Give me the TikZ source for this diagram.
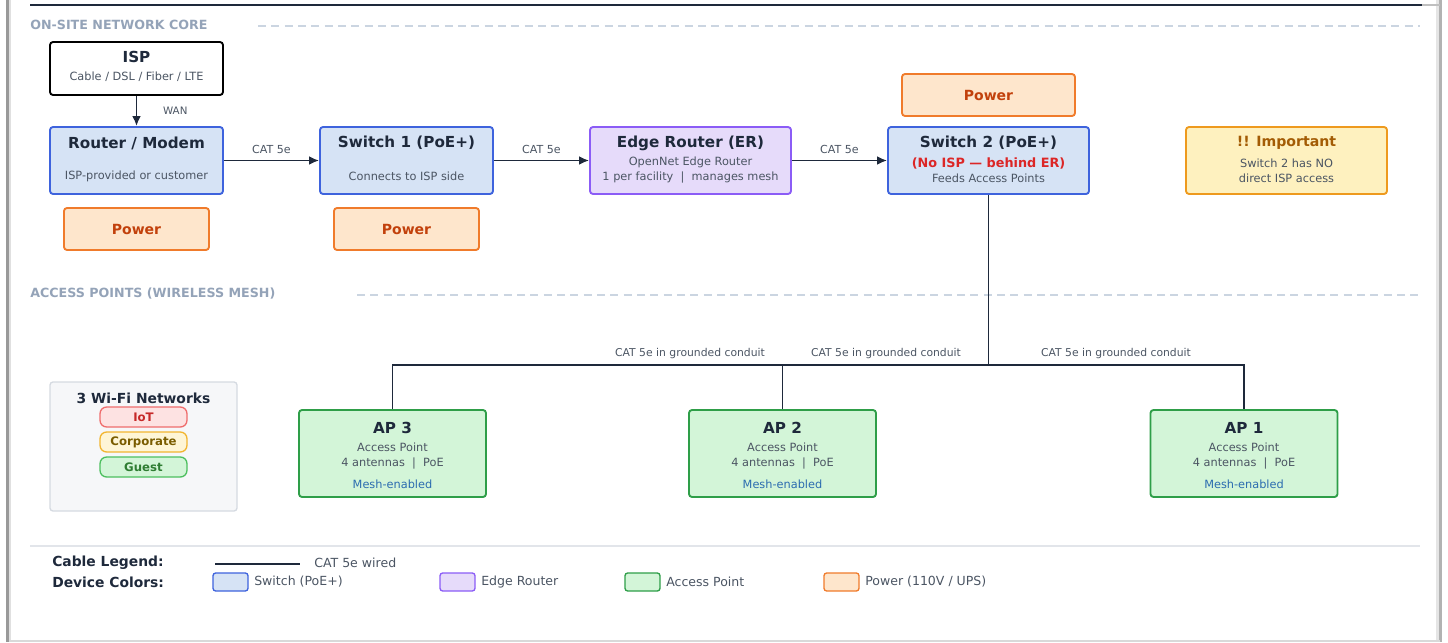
\documentclass[tikz,border=0pt]{standalone}
\usepackage{fontspec}
\setmainfont{DejaVu Sans}
\usepackage{xcolor}
\usepackage{tikz}
\usetikzlibrary{arrows.meta}

\definecolor{ink}{HTML}{1E293B}
\definecolor{subgray}{HTML}{4B5563}
\definecolor{secgray}{HTML}{94A3B8}
\definecolor{dashgray}{HTML}{CBD5E1}
\definecolor{sepgray}{HTML}{E2E5EA}
\definecolor{swfill}{HTML}{D6E3F5}
\definecolor{swline}{HTML}{3E63DD}
\definecolor{erfill}{HTML}{E6DBFA}
\definecolor{erline}{HTML}{8B5CF6}
\definecolor{pwfill}{HTML}{FEE6CC}
\definecolor{pwline}{HTML}{F07B2B}
\definecolor{pwtext}{HTML}{C2410C}
\definecolor{apfill}{HTML}{D3F5D8}
\definecolor{apline}{HTML}{2E9E48}
\definecolor{meshblue}{HTML}{2B6CB0}
\definecolor{impfill}{HTML}{FEF1BF}
\definecolor{impline}{HTML}{EE9A1E}
\definecolor{imptext}{HTML}{A35C05}
\definecolor{alertred}{HTML}{DC2626}
\definecolor{wififill}{HTML}{F6F7F9}
\definecolor{wifiline}{HTML}{D5DAE1}
\definecolor{iotfill}{HTML}{FDE2E2}
\definecolor{iotline}{HTML}{EF6C6C}
\definecolor{iottext}{HTML}{C62828}
\definecolor{corpfill}{HTML}{FEF5D6}
\definecolor{corpline}{HTML}{F2B530}
\definecolor{corptext}{HTML}{7A5C00}
\definecolor{guestline}{HTML}{4CBF5E}
\definecolor{guesttext}{HTML}{2E7D32}

\newcommand{\fsz}[1]{\fontsize{#1}{#1}\selectfont}

\begin{document}
\begin{tikzpicture}[x=0.75pt, y=-0.75pt,
    box/.style={draw, rounded corners=2.25pt, line width=1.4pt, inner sep=0pt},
    ispbox/.style={box, draw=black, fill=white, minimum width=129.75pt, minimum height=39.75pt},
    swbox/.style={box, draw=swline, fill=swfill, minimum width=129.75pt, minimum height=50.25pt},
    widebox/.style={box, minimum width=150.75pt, minimum height=50.25pt},
    erbox/.style={widebox, draw=erline, fill=erfill},
    impbox/.style={widebox, draw=impline, fill=impfill},
    pwbox/.style={box, draw=pwline, fill=pwfill, text=pwtext, font=\fsz{10.5}\bfseries,
                  minimum width=108.75pt, minimum height=31.5pt},
    apbox/.style={box, draw=apline, fill=apfill, minimum width=140.25pt, minimum height=65.25pt},
    wifibox/.style={box, line width=1pt, draw=wifiline, fill=wififill, minimum width=140.25pt, minimum height=96.75pt},
    pill/.style={box, line width=1pt, rounded corners=5pt, font=\fsz{8.8}\bfseries,
                 minimum width=65.25pt, minimum height=15pt},
    swatch/.style={box, line width=1pt, rounded corners=2pt, minimum width=26.25pt, minimum height=13.5pt},
    ttl/.style={text=ink, font=\fsz{11.4}\bfseries, inner sep=0pt},
    sub/.style={text=subgray, font=\fsz{8.5}, inner sep=0pt},
    sect/.style={text=secgray, font=\fsz{9.5}\bfseries, inner sep=0pt, anchor=west},
    cablelbl/.style={text=subgray, font=\fsz{8.3}},
    legend/.style={text=ink, font=\fsz{10.4}\bfseries, inner sep=0pt, anchor=west},
    legitem/.style={text=subgray, font=\fsz{9.4}, inner sep=0pt, anchor=west},
    cable/.style={draw=ink, line width=1.3pt},
    arr/.style={cable, -{Latex[length=7.5pt, width=6.5pt]}},
    sectline/.style={draw=dashgray, line width=1pt, dash pattern=on 6pt off 4pt}]

  \useasboundingbox (0,0) rectangle (1448,642);
  % Rahmen
  \fill[black!40] (6,0) rectangle (9,642);
  \fill[black!12] (9,0) rectangle (11,642);
  \fill[black!30] (1439,0) rectangle (1442,642);
  \fill[black!10] (1436,0) rectangle (1439,642);
  \draw[ink, line width=1.8pt] (30,5) -- (1422,5);
  \draw[black!25, line width=1.8pt] (1422,5) -- (1440,5);
  \draw[black!15, line width=1pt] (9,641) -- (1440,641);

  % Bereich oben
  \node[sect] (secCore) at (30,25) {ON-SITE NETWORK CORE};
  \draw[sectline] (258,26) -- (1420,26);

  \node[ispbox] (isp) at (136.5,68.5) {};
  \node[ttl] (ispT) at (136.5,57) {ISP};
  \node[sub] (ispS) at (136.5,77) {Cable / DSL / Fiber / LTE};

  \node[swbox] (router) at (136.5,160.5) {};
  \node[ttl] (routerT) at (136.5,143) {Router / Modem};
  \node[sub] (routerS) at (136.5,176) {ISP-provided or customer};

  \node[swbox] (swA) at (406.5,160.5) {};
  \node[ttl] (swAT) at (406.5,143) {Switch 1 (PoE+)};
  \node[sub] (swAS) at (406.5,176) {Connects to ISP side};

  \node[erbox] (er) at (690.5,160.5) {};
  \node[ttl] (erT) at (690.5,143) {Edge Router (ER)};
  \node[sub] (erS) at (690.5,162) {OpenNet Edge Router};
  \node[sub] (erU) at (690.5,178) {1 per facility \ | \ manages mesh};

  \node[widebox, draw=swline, fill=swfill] (swB) at (988.5,160.5) {};
  \node[ttl] (swBT) at (988.5,143) {Switch 2 (PoE+)};
  \node[ttl, text=alertred, font=\fsz{9.6}\bfseries] (swBR) at (988.5,163) {(No ISP — behind ER)};
  \node[sub] (swBS) at (988.5,178) {Feeds Access Points};

  \node[impbox] (imp) at (1286.5,160.5) {};
  \node[ttl, text=imptext, font=\fsz{10.6}\bfseries] (impT) at (1286.5,143) {!! Important};
  \node[sub] (impS) at (1286.5,163) {Switch 2 has NO};
  \node[sub] (impU) at (1286.5,178) {direct ISP access};

  \node[pwbox] (pwA) at (136.5,229) {Power};
  \node[pwbox] (pwB) at (406.5,229) {Power};
  \node[pwbox, minimum width=129.75pt] (pwC) at (988.5,95) {Power};

  % Kabel oben
  \draw[arr] (isp) -- node[right, cablelbl, font=\fsz{7.7}, xshift=16pt] {WAN} (router);
  \draw[arr] (router) -- node[above, cablelbl, yshift=1pt] {CAT 5e} (swA);
  \draw[arr] (swA) -- node[above, cablelbl, yshift=1pt] {CAT 5e} (er);
  \draw[arr] (er) -- node[above, cablelbl, yshift=1pt] {CAT 5e} (swB);

  % Bereich unten
  \node[sect] (secAP) at (30,294) {ACCESS POINTS (WIRELESS MESH)};
  \draw[sectline] (357,295) -- (1420,295);

  \foreach \nm/\lbl/\cx in {apC/3/392.5, apB/2/782.5, apA/1/1244}{
    \node[apbox] (\nm) at (\cx,453.5) {};
    \node[ttl] (\nm T) at (\cx,428) {AP \lbl};
    \node[sub] (\nm S) at (\cx,447) {Access Point};
    \node[sub] (\nm U) at (\cx,464) {4 antennas \ | \ PoE};
    \node[sub, text=meshblue] (\nm M) at (\cx,484) {Mesh-enabled};
  }

  \coordinate (bus) at (988.5,365);
  \draw[cable] (swB) -- (bus);
  \draw[cable] (bus) -| (apC.north);
  \draw[cable] (bus) -| (apB.north);
  \draw[cable] (bus) -| (apA.north);
  \foreach \cx in {690,886,1116}
    \node[cablelbl, font=\fsz{8.1}, inner sep=0pt] at (\cx,354) {CAT 5e in grounded conduit};

  % WLAN Netze
  \node[wifibox] (wifi) at (143.5,446.5) {};
  \node[ttl, font=\fsz{10.4}\bfseries] (wifiT) at (143.5,398) {3 Wi-Fi Networks};
  \node[pill, draw=iotline, fill=iotfill, text=iottext] (iot) at (143.5,417) {IoT};
  \node[pill, draw=corpline, fill=corpfill, text=corptext] (corp) at (143.5,442) {Corporate};
  \node[pill, draw=guestline, fill=apfill, text=guesttext] (guest) at (143.5,467) {Guest};

  % Legende
  \draw[sepgray, line width=1.5pt] (30,546) -- (1420,546);
  \node[legend] (legCable) at (52,563) {Cable Legend:};
  \coordinate (lgA) at (215,564);
  \coordinate (lgB) at (300,564);
  \draw[cable] (lgA) -- (lgB);
  \node[legitem] (legCat) at (314,563) {CAT 5e wired};
  \node[legend] (legDev) at (52,582) {Device Colors:};
  \node[swatch, draw=swline, fill=swfill] (swSw) at (230.5,582) {};
  \node[legitem] (swTx) at (254,582) {Switch (PoE+)};
  \node[swatch, draw=erline, fill=erfill] (erSw) at (457.5,582) {};
  \node[legitem] (erTx) at (481,582) {Edge Router};
  \node[swatch, draw=apline, fill=apfill] (apSw) at (642.5,582) {};
  \node[legitem] (apTx) at (666,582) {Access Point};
  \node[swatch, draw=pwline, fill=pwfill] (pwSw) at (841.5,582) {};
  \node[legitem] (pwTx) at (865,582) {Power (110V / UPS)};
\end{tikzpicture}
\end{document}
